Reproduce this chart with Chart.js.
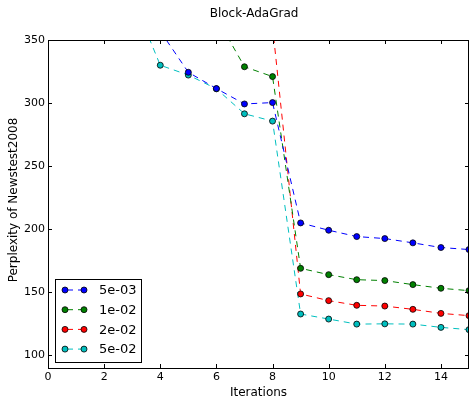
<!DOCTYPE html>
<html>
<head>
<meta charset="utf-8">
<script src="https://cdn.jsdelivr.net/npm/chart.js@4/dist/chart.umd.min.js"></script>
<style>
  html, body { margin: 0; padding: 0; background: #fff; }
  #wrap { width: 470px; height: 403px; }
</style>
</head>
<body>
<div id="wrap"><canvas id="chart" width="470" height="403"></canvas></div>
<script>
// data
const iterations = [3, 4, 5, 6, 7, 8, 9, 10, 11, 12, 13, 14, 15];
const labels = ['5e-03', '1e-02', '2e-02', '5e-02'];
const lr5e3 = [null, 357, 324.4, 311.5, 299.3, 300.4, 205, 199.2, 194.2, 192.6, 189.2, 185.5, 183.9];
const lr1e2 = [null, null, null, 368, 328.8, 321, 169, 164, 160, 159.3, 156.1, 153.2, 151.3];
const lr2e2 = [null, null, null, null, null, 361, 148.7, 143.4, 139.7, 139.1, 136.5, 133.3, 131.5];
const lr5e2 = [384, 330, 322.2, 311.3, 291.5, 285.7, 132.8, 128.8, 124.8, 125, 124.8, 122.2, 120.4];
const colors = ['#0000ff', '#008000', '#ff0000', '#00bfbf'];
const xTicks = [0, 2, 4, 6, 8, 10, 12, 14];
const yTicks = [100, 150, 200, 250, 300, 350];

Chart.defaults.font.family = "'DejaVu Sans', sans-serif";
Chart.defaults.color = '#000';

const series = [lr5e3, lr1e2, lr2e2, lr5e2];
const dash = [6, 5];

const datasets = series.map((vals, i) => ({
    label: labels[i],
    data: iterations.map((x, j) => ({ x: x, y: vals[j] })),
    borderColor: colors[i],
    backgroundColor: colors[i],
    borderWidth: 1,
    borderDash: dash,
    pointRadius: 3,
    pointBorderColor: '#000',
    pointBorderWidth: 0.8,
    pointBackgroundColor: colors[i],
    spanGaps: false,
    clip: 0
}));

// inward ticks on all four sides, x tick labels, the frame, titles and the legend box
const framePlugin = {
    id: 'frame',
    afterDraw(chart) {
        const ctx = chart.ctx;
        const a = chart.chartArea;
        const xs = chart.scales.x, ys = chart.scales.y;
        ctx.save();
        ctx.strokeStyle = '#000';
        ctx.lineWidth = 1;
        ctx.beginPath();
        xTicks.forEach(v => {
            const px = Math.round(xs.getPixelForValue(v)) + 0.5;
            ctx.moveTo(px, a.bottom); ctx.lineTo(px, a.bottom - 4);
            ctx.moveTo(px, a.top); ctx.lineTo(px, a.top + 4);
        });
        yTicks.forEach(v => {
            const py = Math.round(ys.getPixelForValue(v)) + 0.5;
            ctx.moveTo(a.left, py); ctx.lineTo(a.left + 4, py);
            ctx.moveTo(a.right, py); ctx.lineTo(a.right - 4, py);
        });
        ctx.stroke();
        ctx.strokeRect(Math.round(a.left) + 0.5, Math.round(a.top) + 0.5,
            Math.round(a.right - a.left) - 1, Math.round(a.bottom - a.top));

        ctx.fillStyle = '#000';
        ctx.textAlign = 'center';
        ctx.textBaseline = 'middle';
        ctx.font = "11px 'DejaVu Sans'";
        xTicks.forEach(v => {
            ctx.fillText(String(v), xs.getPixelForValue(v), a.bottom + 9.5);
        });

        // titles
        ctx.font = "12px 'DejaVu Sans'";
        ctx.fillText('Block-AdaGrad', 254, 14);
        ctx.save();
        ctx.translate(14, 200);
        ctx.rotate(-Math.PI / 2);
        ctx.fillText('Perplexity of Newstest2008', 0, 0);
        ctx.restore();

        // legend
        const lx = 55.5, ly = 279.5, lw = 86, lh = 83;
        ctx.fillStyle = '#fff';
        ctx.fillRect(lx, ly, lw, lh);
        ctx.strokeRect(lx, ly, lw, lh);
        ctx.font = "13px 'DejaVu Sans'";
        ctx.textAlign = 'left';
        chart.data.datasets.forEach((ds, i) => {
            const y = 290 + i * 19.7;
            ctx.strokeStyle = ds.borderColor;
            ctx.setLineDash(dash);
            ctx.lineDashOffset = -2;
            ctx.beginPath();
            ctx.moveTo(65, y); ctx.lineTo(84, y);
            ctx.stroke();
            ctx.setLineDash([]);
            [65, 84].forEach(mx => {
                ctx.beginPath();
                ctx.arc(mx, y, 3, 0, Math.PI * 2);
                ctx.fillStyle = ds.pointBackgroundColor;
                ctx.fill();
                ctx.strokeStyle = '#000';
                ctx.lineWidth = 0.8;
                ctx.stroke();
            });
            ctx.lineWidth = 1;
            ctx.fillStyle = '#000';
            ctx.fillText(ds.label, 99, y + 1);
        });
        ctx.restore();
    }
};

new Chart(document.getElementById('chart'), {
    type: 'line',
    data: { datasets: datasets },
    options: {
        responsive: false,
        animation: false,
        layout: { autoPadding: false, padding: { left: 0, right: 1, top: 40, bottom: 0 } },
        plugins: {
            legend: { display: false },
            tooltip: { enabled: false },
            title: { display: false }
        },
        scales: {
            x: {
                type: 'linear',
                min: 0,
                max: 15,
                afterBuildTicks: s => { s.ticks = xTicks.map(v => ({ value: v })); },
                afterFit: s => { s.height = 35; },
                grid: { display: false, drawTicks: false },
                border: { display: false },
                ticks: { display: false },
                title: { display: true, text: 'Iterations', font: { size: 12 }, padding: { top: 0, bottom: 3 } }
            },
            y: {
                min: 90,
                max: 350,
                afterBuildTicks: s => { s.ticks = yTicks.map(v => ({ value: v })); },
                afterFit: s => { s.width = 48; s.paddingTop = 0; s.paddingBottom = 0; },
                grid: { display: false, drawTicks: false },
                border: { display: false },
                ticks: { font: { size: 11 }, padding: 3 }
            }
        }
    },
    plugins: [framePlugin]
});
</script>
</body>
</html>
